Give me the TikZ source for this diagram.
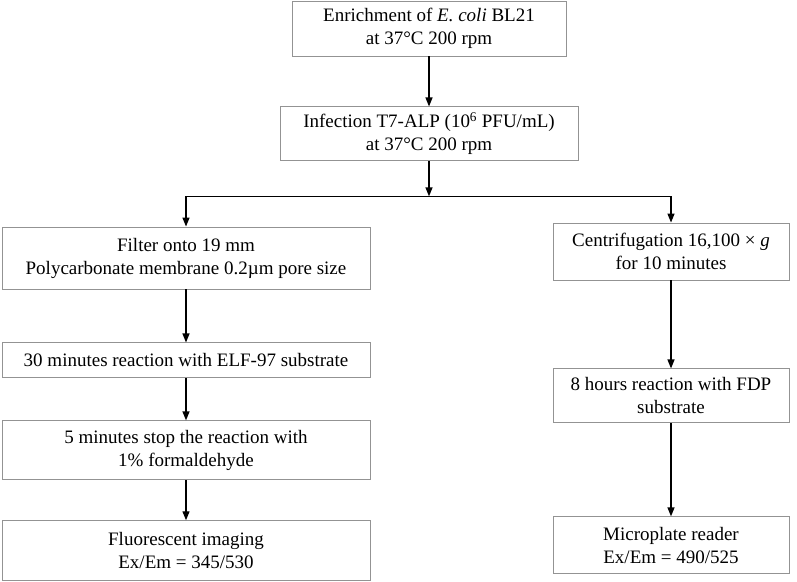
\documentclass[tikz,border=0pt]{standalone}
\usepackage{fontspec}
\setmainfont{Liberation Serif}
\usetikzlibrary{arrows.meta, positioning}

\begin{document}
\begin{tikzpicture}[
    x=1pt, y=1pt,
    node distance=40pt,
    block/.style={rectangle, draw=gray!85, line width=0.9pt, align=center, inner sep=0pt, font=\fontsize{19}{23}\selectfont},
    leftbox/.style={block, minimum width=368pt},
    rightbox/.style={block, minimum width=236pt},
    arrow/.style={-{Triangle[length=9pt, width=7pt]}, line width=1.3pt}
]
\useasboundingbox (0,0) rectangle (797,-581);

% Enrichment
\node[block, minimum width=274pt, minimum height=55pt] (enrich) at (429,-28.5) {Enrichment of \textit{E. coli} BL21\\at 37°C 200 rpm};

% Infection
\node[block, minimum width=298pt, minimum height=54pt, below=50pt of enrich] (infect) {Infection T7-ALP (10\textsuperscript{6} PFU/mL)\\at 37°C 200 rpm};

% Left branch
\node[leftbox, minimum height=62pt] (filter) at (186,-258) {Filter onto 19 mm\\Polycarbonate membrane 0.2µm pore size};
\node[leftbox, minimum height=35pt, below=53pt of filter] (elf) {30 minutes reaction with ELF-97 substrate};
\node[leftbox, minimum height=59pt, below=42pt of elf] (stop) {5 minutes stop the reaction with\\1\% formaldehyde};
\node[leftbox, minimum height=60pt, below=40pt of stop] (imaging) {Fluorescent imaging\\Ex/Em = 345/530};

% Right branch
\node[rightbox, minimum height=57pt] (centri) at (671,-251.5) {Centrifugation 16,100 × \textit{g}\\for 10 minutes};
\node[rightbox, minimum height=54pt, below=88pt of centri] (fdp) {8 hours reaction with FDP\\substrate};
\node[rightbox, minimum height=57pt, below=93pt of fdp] (reader) {Microplate reader\\Ex/Em = 490/525};

% Split
\coordinate[below=35pt of infect.south] (split);

% Arrows
\draw[arrow] (enrich) -- (infect);
\draw[arrow] (infect) -- (split);
\draw[line width=1.3pt] (filter.north |- split) -- (centri.north |- split);
\draw[arrow] (filter.north |- split) -- (filter);
\draw[arrow] (centri.north |- split) -- (centri);
\draw[arrow] (filter) -- (elf);
\draw[arrow] (elf) -- (stop);
\draw[arrow] (stop) -- (imaging);
\draw[arrow] (centri) -- (fdp);
\draw[arrow] (fdp) -- (reader);

\end{tikzpicture}
\end{document}
